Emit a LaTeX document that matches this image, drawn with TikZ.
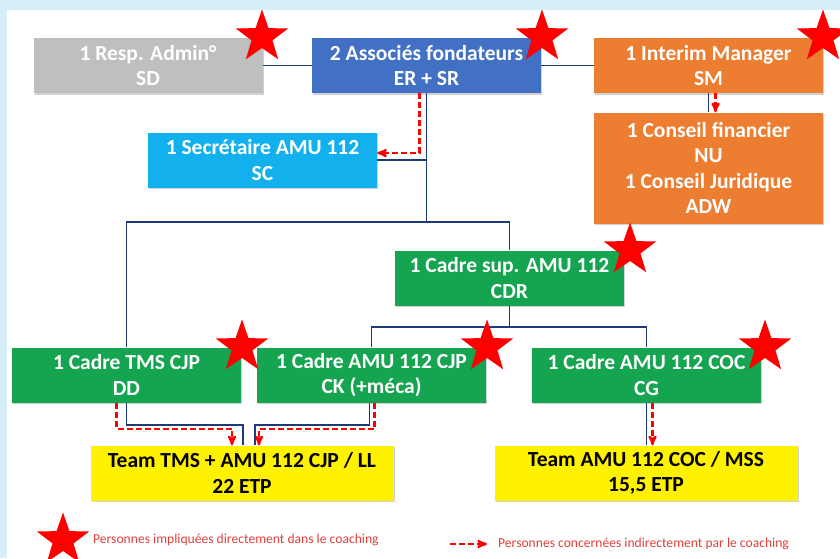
\documentclass[tikz,border=0pt]{standalone}
\usepackage{fontspec}
\setmainfont{Carlito}
\usetikzlibrary{arrows}
\usetikzlibrary{shapes.geometric,shadows}

\definecolor{framebg}{HTML}{D5EEF7}
\definecolor{navy}{HTML}{1F3A78}
\definecolor{grey}{HTML}{BFBFBF}
\definecolor{assocblue}{HTML}{4270C4}
\definecolor{orange}{HTML}{ED7D31}
\definecolor{skyblue}{HTML}{12B1EE}
\definecolor{green}{HTML}{15A550}
\definecolor{keyred}{HTML}{E0403C}

\tikzset{
  box/.style={minimum width=229pt, minimum height=55pt, inner sep=0pt, align=center,
    text=white, font=\bfseries\fontsize{21.5}{25.5}\selectfont,
    drop shadow={shadow xshift=1.2pt, shadow yshift=-1.8pt, opacity=.35}},
  team/.style={box, fill=yellow, text=black, minimum width=303pt},
  link/.style={navy, line width=1.7pt},
  coach/.style={red, line width=2.2pt, dash pattern=on 6pt off 3pt, ->, >=stealth'},
  redstar/.style={star, star points=5, star point ratio=2.5, fill=red, minimum size=55pt, inner sep=0pt},
  legend/.style={text=keyred, font=\fontsize{13.6}{15}\selectfont, inner sep=0pt}
}

\begin{document}
\begin{tikzpicture}[x=1pt,y=-1pt]
\useasboundingbox (0,0) rectangle (840,558);
\fill[framebg] (0,0) rectangle (840,558);
\fill[white] (7,10) rectangle (840,558);

% top row
\node[box, fill=grey]      (admin)   at (148,65.5)   {1 Resp. Admin°\\SD};
\node[box, fill=assocblue] (assoc)   at (426.5,65.5) {2 Associés fondateurs\\ER + SR};
\node[box, fill=orange]    (interim) at (708.5,65.5) {1 Interim Manager\\SM};
\node[box, fill=orange, minimum height=111pt] (conseil) at (708.5,168)
  {1 Conseil financier\\NU\\1 Conseil Juridique\\ADW};
\node[box, fill=skyblue]   (sec)     at (262.5,160)  {1 Secrétaire AMU 112\\SC};

% cadres
\node[box, fill=green] (cadresup) at (509.5,278) {1 Cadre sup. AMU 112\\CDR};
\node[box, fill=green] (tms)      at (126.5,375) {1 Cadre TMS CJP\\DD};
\node[box, fill=green] (cjp)      at (371.5,375) {1 Cadre AMU 112 CJP\\CK (+méca)};
\node[box, fill=green] (coc)      at (646.5,375) {1 Cadre AMU 112 COC\\CG};

% teams
\node[team] (teamA) at (242,473) {Team TMS + AMU 112 CJP / LL\\22 ETP};
\node[team] (teamB) at (646,473) {Team AMU 112 COC / MSS\\15,5 ETP};

\coordinate (hubA) at (426.5,222);
\coordinate (hubB) at (509.5,327);

% hierarchy
\draw[link] (admin.east) -- (assoc.west);
\draw[link] (assoc.east) -- (interim.west);
\draw[link] (interim.south) -- (conseil.north);
\draw[link] (assoc.south) -- (hubA);
\draw[link] (sec.east) -- (sec.east -| hubA);
\draw[link] (tms.north) |- (hubA) -| (cadresup.north);
\draw[link] (cadresup.south) -- (hubB);
\draw[link] (cjp.north) |- (hubB) -| (coc.north);
\draw[link] (tms.south) -- ++(0,22) -| ([xshift=1pt]teamA.north);
\draw[link] ([xshift=-2pt]cjp.south) -- ++(0,22) -| ([xshift=13pt]teamA.north);
\draw[link] (coc.south) -- (coc.south |- teamB.north);

% indirect coaching
\draw[coach] ([xshift=7pt]interim.south) -- ([xshift=7pt]conseil.north);
\draw[coach] ([xshift=-7pt]assoc.south) |- ([yshift=7pt]sec.east);
\draw[coach] ([xshift=-10pt]tms.south) -- ++(0,26) -| ([xshift=-10pt]teamA.north);
\draw[coach] ([xshift=3pt]cjp.south) -- ++(0,26) -| ([xshift=17pt]teamA.north);
\draw[coach] ([xshift=6pt]coc.south) -- ([xshift=6pt]coc.south |- teamB.north);

% direct coaching
\foreach \n/\x/\y in {a/262/37, b/542/37, c/823/37, d/630/250, e/242/347, f/487/347, g/765/347}
  \node[redstar] (star\n) at (\x,\y) {};

% legend
\node[redstar] (keystar) at (63,540) {};
\node[legend, anchor=west] (keydirect) at (93,540) {Personnes impliquées directement dans le coaching};
\coordinate (keyA) at (450,544);
\coordinate (keyB) at (487,544);
\draw[coach] (keyA) -- (keyB);
\node[legend, anchor=west] (keyindirect) at (498,544) {Personnes concernées indirectement par le coaching};
\end{tikzpicture}
\end{document}
